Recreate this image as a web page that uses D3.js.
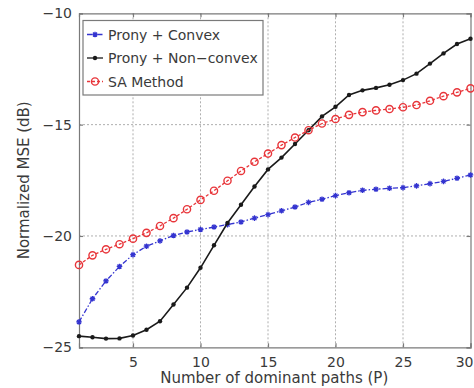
<!DOCTYPE html>
<html>
<head>
<meta charset="utf-8">
<script src="https://cdn.jsdelivr.net/npm/d3@7"></script>
<style>
  html, body { margin: 0; padding: 0; background: #fff; }
  svg { display: block; font-family: "DejaVu Sans", sans-serif; }
</style>
</head>
<body>
<div id="chart"></div>
<script>
// values
const paths = d3.range(1, 31);
const pronyConvex = [-23.86, -22.82, -22.02, -21.37, -20.84, -20.46, -20.22, -19.98, -19.82, -19.71,
  -19.60, -19.49, -19.37, -19.20, -19.04, -18.87, -18.70, -18.49, -18.35, -18.19,
  -18.06, -17.95, -17.90, -17.86, -17.83, -17.75, -17.65, -17.55, -17.41, -17.26];
const pronyNonConvex = [-24.50, -24.55, -24.61, -24.60, -24.47, -24.21, -23.83, -23.08, -22.32, -21.43,
  -20.42, -19.42, -18.60, -17.78, -17.01, -16.48, -15.87, -15.25, -14.63, -14.20,
  -13.67, -13.46, -13.35, -13.21, -13.00, -12.71, -12.26, -11.80, -11.38, -11.14];
const saMethod = [-21.30, -20.87, -20.60, -20.37, -20.12, -19.86, -19.55, -19.20, -18.80, -18.38,
  -17.97, -17.52, -17.08, -16.67, -16.30, -15.92, -15.58, -15.25, -14.95, -14.75,
  -14.56, -14.44, -14.36, -14.30, -14.22, -14.12, -13.93, -13.72, -13.55, -13.37];
const xTicks = [5, 10, 15, 20, 25, 30];
const yTicks = [-10, -15, -20, -25];

const series = [
  { name: 'Prony + Convex', values: pronyConvex, color: '#3434d0', dash: '5,2,1.5,2', marker: 'star' },
  { name: 'Prony + Non\u2212convex', values: pronyNonConvex, color: '#1a1a1a', dash: null, marker: 'dot' },
  { name: 'SA Method', values: saMethod, color: '#e8353a', dash: '3,2', marker: 'circle' }
];

const width = 474, height = 388;
const margin = { left: 79, right: 3.5, top: 13.3, bottom: 40.7 };

const svg = d3.select('#chart').append('svg')
  .attr('width', width)
  .attr('height', height);

const x = d3.scaleLinear().domain([1, 30]).range([margin.left, width - margin.right]);
const y = d3.scaleLinear().domain([-25, -10]).range([height - margin.bottom, margin.top]);

// grid
const grid = svg.append('g')
  .attr('stroke', '#9a9a9a')
  .attr('stroke-width', 0.8)
  .attr('stroke-dasharray', '2,2');
grid.selectAll('.gx').data(xTicks.filter(t => t < 30)).enter().append('line')
  .attr('x1', d => x(d)).attr('x2', d => x(d))
  .attr('y1', y(-25)).attr('y2', y(-10));
grid.selectAll('.gy').data([-15, -20]).enter().append('line')
  .attr('x1', x(1)).attr('x2', x(30))
  .attr('y1', d => y(d)).attr('y2', d => y(d));

// axes
const axisColor = '#7a7a7a';
const xAxis = svg.append('g')
  .attr('transform', `translate(0,${y(-25)})`)
  .call(d3.axisBottom(x).tickValues(xTicks).tickSize(-4).tickPadding(10));
const yAxis = svg.append('g')
  .attr('transform', `translate(${x(1)},0)`)
  .call(d3.axisLeft(y).tickValues(yTicks).tickSize(-4).tickPadding(7)
    .tickFormat(d => d3.format('d')(d).replace('-', '\u2212')));
const xTop = svg.append('g')
  .attr('transform', `translate(0,${y(-10)})`)
  .call(d3.axisTop(x).tickValues(xTicks).tickSize(-4).tickFormat(''));
const yRight = svg.append('g')
  .attr('transform', `translate(${x(30)},0)`)
  .call(d3.axisRight(y).tickValues(yTicks).tickSize(-4).tickFormat(''));

[xAxis, yAxis, xTop, yRight].forEach(g => {
  g.selectAll('path, line').attr('stroke', axisColor).attr('stroke-width', 1.2);
  g.selectAll('text').attr('fill', '#3a3a3a').attr('font-size', 14)
    .attr('font-family', '"DejaVu Sans", sans-serif');
});
// keep the last tick label inside the window
xAxis.selectAll('.tick text').filter(d => d === 30)
  .attr('text-anchor', 'end').attr('dx', 2.5);

// lines
const line = d3.line()
  .x((d, i) => x(paths[i]))
  .y(d => y(d))
  .curve(d3.curveLinear);

function drawMarker(g, type, color) {
  if (type === 'star') {
    g.append('path')
      .attr('d', 'M-2.8,0H2.8M0,-2.8V2.8M-2,-2L2,2M-2,2L2,-2')
      .attr('stroke', color).attr('stroke-width', 1.3).attr('fill', 'none');
  } else if (type === 'dot') {
    g.append('circle').attr('r', 2.2).attr('fill', color);
  } else {
    g.append('circle').attr('r', 3.6)
      .attr('fill', 'none').attr('stroke', color).attr('stroke-width', 1.4);
  }
}

series.forEach(s => {
  svg.append('path')
    .datum(s.values)
    .attr('d', line)
    .attr('fill', 'none')
    .attr('stroke', s.color)
    .attr('stroke-width', s.marker === 'dot' ? 1.6 : 1.3)
    .attr('stroke-dasharray', s.dash);
  const pts = svg.append('g');
  s.values.forEach((v, i) => {
    const g = pts.append('g').attr('transform', `translate(${x(paths[i])},${y(v)})`);
    drawMarker(g, s.marker, s.color);
  });
});

// legend
const legend = svg.append('g');
legend.append('rect')
  .attr('x', 83).attr('y', 20.5)
  .attr('width', 180).attr('height', 74.5)
  .attr('fill', '#fff')
  .attr('stroke', '#7a7a7a')
  .attr('stroke-width', 1.2);
series.forEach((s, i) => {
  const cy = 34.5 + i * 23.5;
  legend.append('line')
    .attr('x1', 87).attr('x2', 103)
    .attr('y1', cy).attr('y2', cy)
    .attr('stroke', s.color)
    .attr('stroke-width', 1.3)
    .attr('stroke-dasharray', s.dash);
  drawMarker(legend.append('g').attr('transform', `translate(95,${cy})`), s.marker, s.color);
  legend.append('text')
    .attr('x', 108).attr('y', cy + 5)
    .attr('font-size', 14)
    .attr('fill', '#3a3a3a')
    .text(s.name);
});

// axis titles
svg.append('text')
  .attr('x', (x(1) + x(30)) / 2 - 0.5)
  .attr('y', 383)
  .attr('text-anchor', 'middle')
  .attr('font-size', 15)
  .attr('fill', '#3a3a3a')
  .text('Number of dominant paths (P)');

svg.append('text')
  .attr('transform', `translate(28.5,${(y(-10) + y(-25)) / 2}) rotate(-90)`)
  .attr('text-anchor', 'middle')
  .attr('font-size', 15)
  .attr('fill', '#3a3a3a')
  .text('Normalized MSE (dB)');
</script>
</body>
</html>
